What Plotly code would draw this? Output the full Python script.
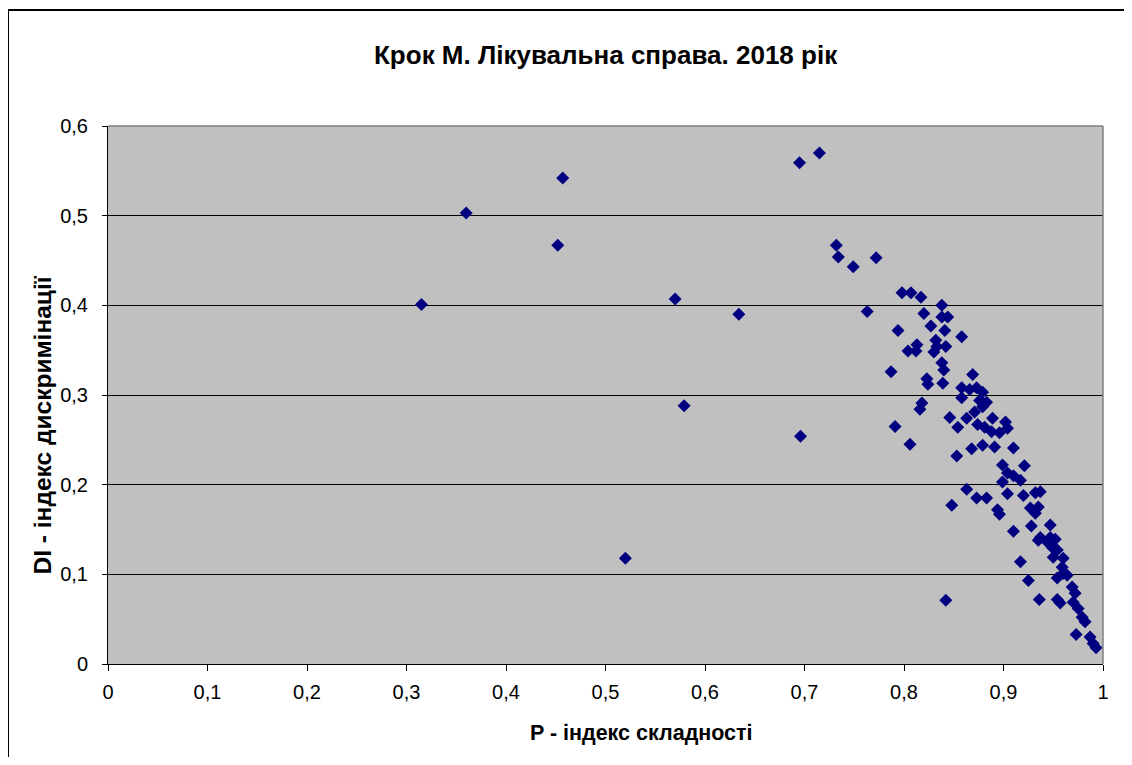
import plotly.graph_objects as go

title_text = "Крок М. Лікувальна справа. 2018 рік"
x_title = "P - індекс складності"
y_title = "DI - індекс дискримінації"

P = [0.315, 0.360, 0.457, 0.452, 0.520, 0.570, 0.579, 0.634, 0.695, 0.715,
     0.696, 0.732, 0.734, 0.749, 0.772, 0.763, 0.798, 0.807, 0.817, 0.838,
     0.820, 0.838, 0.844, 0.827, 0.794, 0.841, 0.832, 0.813, 0.804, 0.812,
     0.830, 0.833, 0.842, 0.838, 0.840, 0.787, 0.858, 0.869, 0.823, 0.824,
     0.839, 0.858, 0.866, 0.873, 0.879, 0.858, 0.876, 0.879, 0.818, 0.816,
     0.846, 0.854, 0.863, 0.871, 0.879, 0.883, 0.874, 0.881, 0.889, 0.902,
     0.888, 0.896, 0.904, 0.791, 0.806, 0.853, 0.868, 0.879, 0.891, 0.910,
     0.899, 0.921, 0.904, 0.910, 0.917, 0.899, 0.863, 0.873, 0.883, 0.904,
     0.920, 0.932, 0.937, 0.848, 0.894, 0.896, 0.927, 0.935, 0.932, 0.910,
     0.928, 0.947, 0.937, 0.947, 0.952, 0.949, 0.954, 0.917, 0.960, 0.950,
     0.959, 0.960, 0.964, 0.925, 0.954, 0.969, 0.972, 0.842, 0.936, 0.954,
     0.957, 0.970, 0.975, 0.979, 0.982, 0.973, 0.987, 0.990, 0.993, 0.944,
     0.935]
DI = [0.401, 0.503, 0.542, 0.467, 0.118, 0.407, 0.288, 0.390, 0.559, 0.570,
      0.254, 0.467, 0.454, 0.443, 0.453, 0.393, 0.414, 0.414, 0.409, 0.400,
      0.391, 0.387, 0.387, 0.377, 0.372, 0.372, 0.361, 0.356, 0.349, 0.349,
      0.348, 0.354, 0.354, 0.336, 0.328, 0.326, 0.365, 0.323, 0.318, 0.312,
      0.313, 0.308, 0.306, 0.308, 0.303, 0.297, 0.294, 0.291, 0.291, 0.284,
      0.275, 0.264, 0.274, 0.281, 0.287, 0.292, 0.267, 0.264, 0.274, 0.270,
      0.259, 0.258, 0.263, 0.265, 0.245, 0.232, 0.240, 0.244, 0.242, 0.241,
      0.222, 0.221, 0.213, 0.210, 0.205, 0.203, 0.195, 0.185, 0.185, 0.190,
      0.188, 0.191, 0.192, 0.177, 0.172, 0.167, 0.174, 0.175, 0.168, 0.148,
      0.154, 0.155, 0.141, 0.141, 0.139, 0.130, 0.127, 0.114, 0.118, 0.119,
      0.108, 0.101, 0.099, 0.093, 0.096, 0.086, 0.079, 0.071, 0.072, 0.072,
      0.068, 0.069, 0.062, 0.052, 0.047, 0.033, 0.030, 0.023, 0.018, 0.136,
      0.138]

FONT = "Liberation Sans, Arial, sans-serif"

fig = go.Figure()
fig.add_trace(go.Scatter(
    x=P, y=DI, mode="markers",
    marker=dict(symbol="diamond", size=10, color="#000080",
                line=dict(width=0)),
    showlegend=False, hoverinfo="x+y",
))

fig.update_layout(
    width=1116, height=749,
    margin=dict(l=100, r=21, t=118, b=93),
    paper_bgcolor="white",
    plot_bgcolor="#C0C0C0",
    separators=", ",
    font=dict(family=FONT, color="black", size=20),
    xaxis=dict(range=[0, 1], dtick=0.1, tick0=0, showgrid=False, zeroline=False,
               showline=True, linecolor="black", linewidth=1,
               ticks="outside", ticklen=6, tickcolor="black",
               tickfont=dict(size=20), ticklabelstandoff=4, fixedrange=True),
    yaxis=dict(range=[0, 0.6], dtick=0.1, tick0=0, showgrid=True,
               gridcolor="black", gridwidth=1, zeroline=False,
               showline=True, linecolor="black", linewidth=1,
               ticks="outside", ticklen=5, tickcolor="black",
               tickfont=dict(size=20), ticklabelstandoff=10, fixedrange=True),
    shapes=[
        dict(type="line", xref="paper", yref="paper", x0=0, x1=1, y0=1, y1=1,
             line=dict(color="#808080", width=1.5)),
        dict(type="line", xref="paper", yref="paper", x0=1, x1=1, y0=0, y1=1,
             line=dict(color="#808080", width=1.5)),
        dict(type="rect", xref="paper", yref="paper",
             x0=-0.1005, x1=1.045, y0=-0.3, y1=1.2156,
             line=dict(color="black", width=2), fillcolor="rgba(0,0,0,0)",
             layer="below"),
    ],
    annotations=[
        dict(text="<b>" + title_text + "</b>", xref="paper", yref="paper",
             x=0.5, y=1.132, showarrow=False, font=dict(size=26),
             xanchor="center", yanchor="middle"),
        dict(text="<b>" + x_title + "</b>", xref="paper", yref="paper",
             x=0.536, y=-0.128, showarrow=False, font=dict(size=21.5),
             xanchor="center", yanchor="middle"),
        dict(text="<b>" + y_title + "</b>", xref="paper", yref="paper",
             x=-0.066, y=0.444, showarrow=False, font=dict(size=24.5),
             textangle=-90, xanchor="center", yanchor="middle"),
    ],
)

fig.write_html("out.html")
